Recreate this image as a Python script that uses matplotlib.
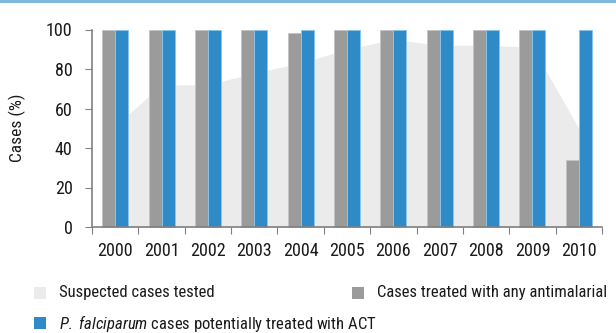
import matplotlib
matplotlib.use("Agg")
import matplotlib.pyplot as plt
from matplotlib.patches import Rectangle
import numpy as np

plt.rcParams['font.family'] = ['Roboto Condensed', 'DejaVu Sans']
plt.rcParams['mathtext.fontset'] = 'custom'
plt.rcParams['mathtext.rm'] = 'Roboto Condensed'
plt.rcParams['mathtext.it'] = 'Roboto Condensed:italic'

years = ["2000", "2001", "2002", "2003", "2004", "2005", "2006", "2007", "2008", "2009", "2010"]
tested = [51, 72, 72, 78, 83, 90, 95, 92, 92, 91, 50]
any_antimalarial = [100, 100, 100, 100, 98, 100, 100, 100, 100, 100, 34]
act = [100, 100, 100, 100, 100, 100, 100, 100, 100, 100, 100]

c_area = "#ebebeb"
c_gray = "#9b9b9b"
c_blue = "#2f8bc8"

fig = plt.figure(figsize=(6.16, 3.33), dpi=100)
ax = fig.add_axes([92/616, 106/333, 510/616, 197.5/333])

x = np.arange(len(years))
w = 0.28
ax.fill_between(x, 0, tested, color=c_area, lw=0, zorder=1)
ax.bar(x - w/2, any_antimalarial, w, color=c_gray, edgecolor="#c4c4c4", lw=0.7, zorder=2, clip_on=False)
ax.bar(x + w/2, act, w, color=c_blue, edgecolor="#8cc4ea", lw=0.7, zorder=2, clip_on=False)

ax.set_xlim(-0.5, len(years) - 0.5)
ax.set_ylim(0, 100)
ax.set_yticks([0, 20, 40, 60, 80, 100])
ax.set_xticks(np.arange(len(years) + 1) - 0.5)
ax.set_xticklabels([])
ax.set_xticks(x, minor=True)
ax.set_xticklabels(years, minor=True)
ax.tick_params(axis='x', which='minor', length=0, pad=11, labelsize=13, labelcolor="#1a1a1a")
ax.tick_params(axis='x', which='major', length=5, width=0.8, color="#808080")
ax.tick_params(axis='y', length=5, width=0.8, color="#808080", pad=9, labelsize=13, labelcolor="#1a1a1a")
ax.set_ylabel("Cases (%)", fontsize=12.5, labelpad=14, color="#1a1a1a")

for s in ["top", "right"]:
    ax.spines[s].set_visible(False)
for s in ["left", "bottom"]:
    ax.spines[s].set_color("#808080")
    ax.spines[s].set_linewidth(1.2)

# top band
fig.patches.append(Rectangle((0, 1 - 3/333), 1, 3/333, transform=fig.transFigure,
                             color="#80b9e0", lw=0))

# legend
items = [
    (34, 293, c_area, "Suspected cases tested"),
    (352, 293, c_gray, "Cases treated with any antimalarial"),
    (34, 323, c_blue, r"$\mathit{P.\ falciparum}$ cases potentially treated with ACT"),
]
for px, py, col, label in items:
    fig.patches.append(Rectangle((px/616, 1 - (py + 6)/333), 12/616, 12/333,
                                 transform=fig.transFigure, color=col, lw=0))
    fig.text((px + 25)/616, 1 - py/333, label, fontsize=12, va="center", ha="left",
             color="#1a1a1a")

fig.savefig("out.png", dpi=100)
